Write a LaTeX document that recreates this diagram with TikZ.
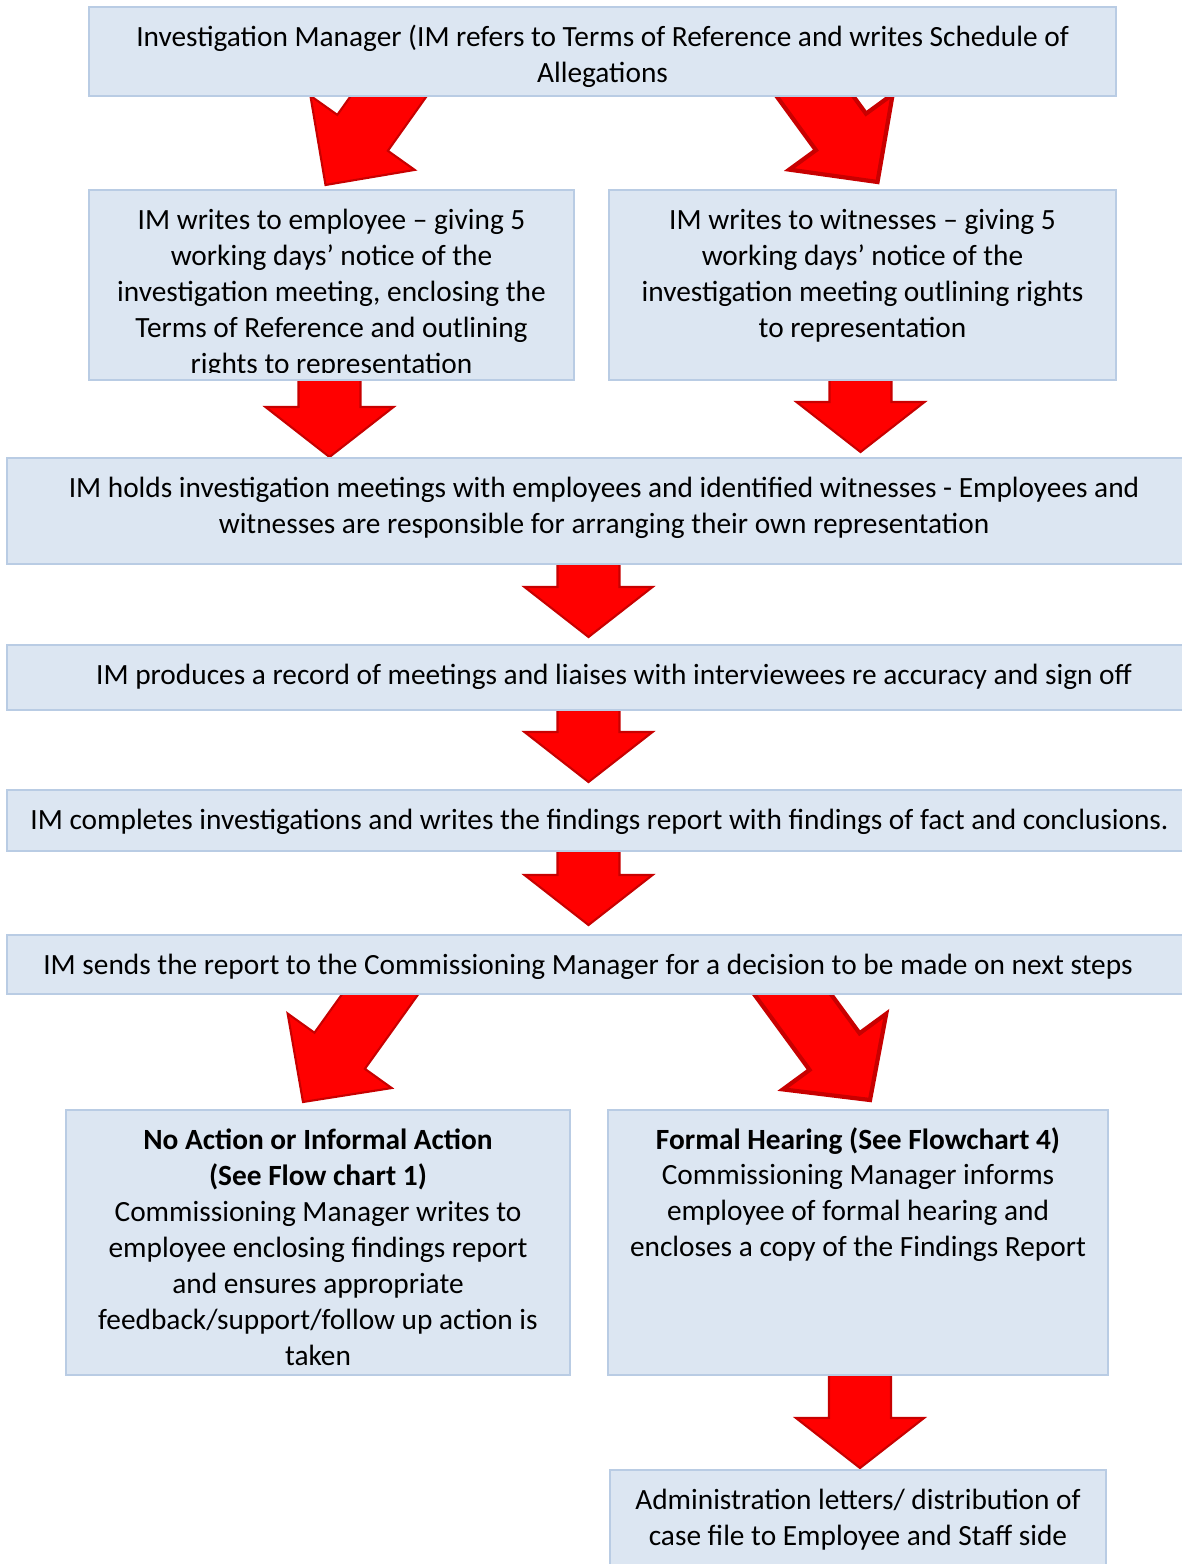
\documentclass[tikz,border=0pt]{standalone}
\usepackage{fontspec}
\setmainfont{Carlito}
\usetikzlibrary{calc,backgrounds}
\definecolor{boxfill}{RGB}{220,230,242}
\definecolor{boxline}{RGB}{185,204,228}
\definecolor{arrowred}{RGB}{255,0,0}
\definecolor{arrowedge}{RGB}{200,0,0}

\begin{document}
\begin{tikzpicture}[x=0.02cm,y=-0.02cm,
  box/.style 2 args={draw=boxline,fill=boxfill,line width=1pt,anchor=north west,
    minimum width=#1*0.02cm,minimum height=#2*0.02cm,inner sep=0pt,outer sep=0pt},
  txt/.style={align=center,inner sep=0pt,anchor=north,
    font=\fontsize{16.7}{20.4}\selectfont,execute at begin node=\strut},
  arrowpic/.style={line width=1.2pt},
  redarrow/.pic={\draw[fill=arrowred,draw=arrowedge,line join=miter]
    (0,0) -- (-\hd,64) -- (-\hd,31) -- (-\len,31) -- (-\len,-31) -- (-\hd,-31) -- (-\hd,-64) -- cycle;}]
\useasboundingbox (0,0) rectangle (1181,1564);

% boxes
\node[box={1027}{89}] (b1) at (89,7) {};
\node[box={485}{190}] (b2) at (89,190) {};
\node[box={507}{190}] (b3) at (609,190) {};
\node[box={1185}{106}] (b4) at (7,458) {};
\node[box={1185}{65}] (b5) at (7,645) {};
\node[box={1185}{61}] (b6) at (7,790) {};
\node[box={1185}{59}] (b7) at (7,935) {};
\node[box={504}{265}] (b8) at (66,1110) {};
\node[box={500}{265}] (b9) at (608,1110) {};
\node[box={496}{100}] (b10) at (610,1470) {};

% arrows
\begin{pgfonlayer}{background}
\def\len{140}\def\hd{64}
\pic[arrowpic,rotate=-125.4] at ($(b2.north)+(-6,-5)$) {redarrow};
\def\len{140}\def\hd{62}
\pic[arrowpic,line width=2.4pt,rotate=-53.9] at ($(b3.north)+(15,-8)$) {redarrow};
\def\len{160}\def\hd{63}
\pic[arrowpic,rotate=-125.6] at ($(b8.north)+(-15,-8)$) {redarrow};
\def\len{158}\def\hd{60}
\pic[arrowpic,line width=2.4pt,rotate=-53.8] at ($(b9.north)+(12,-10)$) {redarrow};
\def\hd{50}
\def\len{78}
\pic[arrowpic,rotate=-90] at ($(b4.north -| b2.south)+(-2,-1)$) {redarrow};
\def\len{72}
\pic[arrowpic,rotate=-90] at ($(b4.north -| b3.south)+(-2,-6)$) {redarrow};
\def\len{73}
\pic[arrowpic,rotate=-90] at ($(b5.north)+(-11,-8)$) {redarrow};
\def\len{72}
\pic[arrowpic,rotate=-90] at ($(b6.north)+(-11,-8)$) {redarrow};
\def\len{74}
\pic[arrowpic,rotate=-90] at ($(b7.north)+(-11,-10)$) {redarrow};
\def\len{93}
\pic[arrowpic,rotate=-90] at ($(b10.north)+(2,-2)$) {redarrow};
\end{pgfonlayer}

% texts
\node[txt] (t1) at ($(b1.north)+(0,18)$) {Investigation Manager (IM refers to Terms of Reference and writes Schedule of\\Allegations};
\begin{scope}
\clip (b2.north west) rectangle ($(b2.south east)+(0,-8)$);
\node[txt] (t2) at ($(b2.north)+(0,19)$) {IM writes to employee – giving 5\\working days’ notice of the\\investigation meeting, enclosing the\\Terms of Reference and outlining\\rights to representation};
\end{scope}
\node[txt] (t3) at ($(b3.north)+(0,19)$) {IM writes to witnesses – giving 5\\working days’ notice of the\\investigation meeting outlining rights\\to representation};
\node[txt] (t4) at ($(b4.north)+(4.5,19)$) {IM holds investigation meetings with employees and identified witnesses - Employees and\\witnesses are responsible for arranging their own representation};
\node[txt] (t5) at ($(b5.north)+(14.5,14)$) {IM produces a record of meetings and liaises with interviewees re accuracy and sign off};
\node[txt] (t6) at ($(b6.north)+(0,14)$) {IM completes investigations and writes the findings report with findings of fact and conclusions.};
\node[txt] (t7) at ($(b7.north)+(-11.5,14)$) {IM sends the report to the Commissioning Manager for a decision to be made on next steps};
\node[txt] (t8) at ($(b8.north)+(0,19)$) {\textbf{No Action or Informal Action}\\\textbf{(See Flow chart 1)}\\Commissioning Manager writes to\\employee enclosing findings report\\and ensures appropriate\\feedback/support/follow up action is\\taken};
\node[txt] (t9) at ($(b9.north)+(0,17)$) {\textbf{Formal Hearing (See Flowchart 4)}\\Commissioning Manager informs\\employee of formal hearing and\\encloses a copy of the Findings Report};
\node[txt] (t10) at ($(b10.north)+(0,19)$) {Administration letters/ distribution of\\case file to Employee and Staff side};
\end{tikzpicture}
\end{document}
